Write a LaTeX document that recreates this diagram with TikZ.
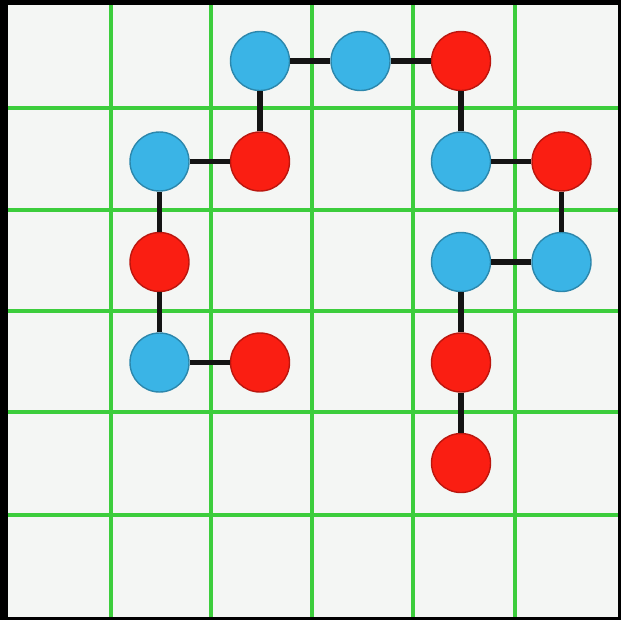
\documentclass[tikz,border=0pt]{standalone}
\usepackage{tikz}
\usetikzlibrary{positioning}
\definecolor{paper}{HTML}{F4F6F4}
\definecolor{gridgreen}{HTML}{3CCD3C}
\definecolor{beadblue}{HTML}{3AB4E6}
\definecolor{beadred}{HTML}{FA1E12}
\definecolor{bondink}{HTML}{141414}
\tikzset{
  bluebead/.style={circle,fill=beadblue,draw=beadblue!75!black,line width=0.4pt,
    minimum size=0.59cm,inner sep=0pt},
  redbead/.style={circle,fill=beadred,draw=beadred!75!black,line width=0.4pt,
    minimum size=0.59cm,inner sep=0pt},
  bond/.style={line width=1.45pt,color=bondink},
  gridline/.style={line width=0.9pt,color=gridgreen},
}

\begin{document}
\begin{tikzpicture}[on grid, node distance=1.005cm]
  % frame and paper
  \fill[black] (0,0) rectangle (6.21,-6.20);
  \fill[paper] (0.08,-0.05) rectangle (6.18,-6.17);
  \useasboundingbox (0,0) rectangle (6.21,-6.20);

  % lattice
  \foreach \x in {1.11,2.11,3.12,4.13,5.15}
    \draw[gridline] (\x,-0.05) -- (\x,-6.17);
  \foreach \y in {1.08,2.10,3.11,4.12,5.15}
    \draw[gridline] (0.08,-\y) -- (6.18,-\y);

  % chain
  \node[bluebead] (m6) at (2.60,-0.61) {};
  \node[bluebead, right=of m6] (m7) {};
  \node[redbead, right=of m7] (m8) {};
  \node[bluebead, below=of m8] (m9) {};
  \node[redbead, right=of m9] (m10) {};
  \node[bluebead, below=of m10] (m11) {};
  \node[bluebead, left=of m11] (m12) {};
  \node[redbead, below=of m12] (m13) {};
  \node[redbead, below=of m13] (m14) {};
  \node[redbead, below=of m6] (m5) {};
  \node[bluebead, left=of m5] (m4) {};
  \node[redbead, below=of m4] (m3) {};
  \node[bluebead, below=of m3] (m2) {};
  \node[redbead, right=of m2] (m1) {};

  \draw[bond] (m1) -- (m2) -- (m3) -- (m4) -- (m5) -- (m6) -- (m7)
    -- (m8) -- (m9) -- (m10) -- (m11) -- (m12) -- (m13) -- (m14);
\end{tikzpicture}
\end{document}
